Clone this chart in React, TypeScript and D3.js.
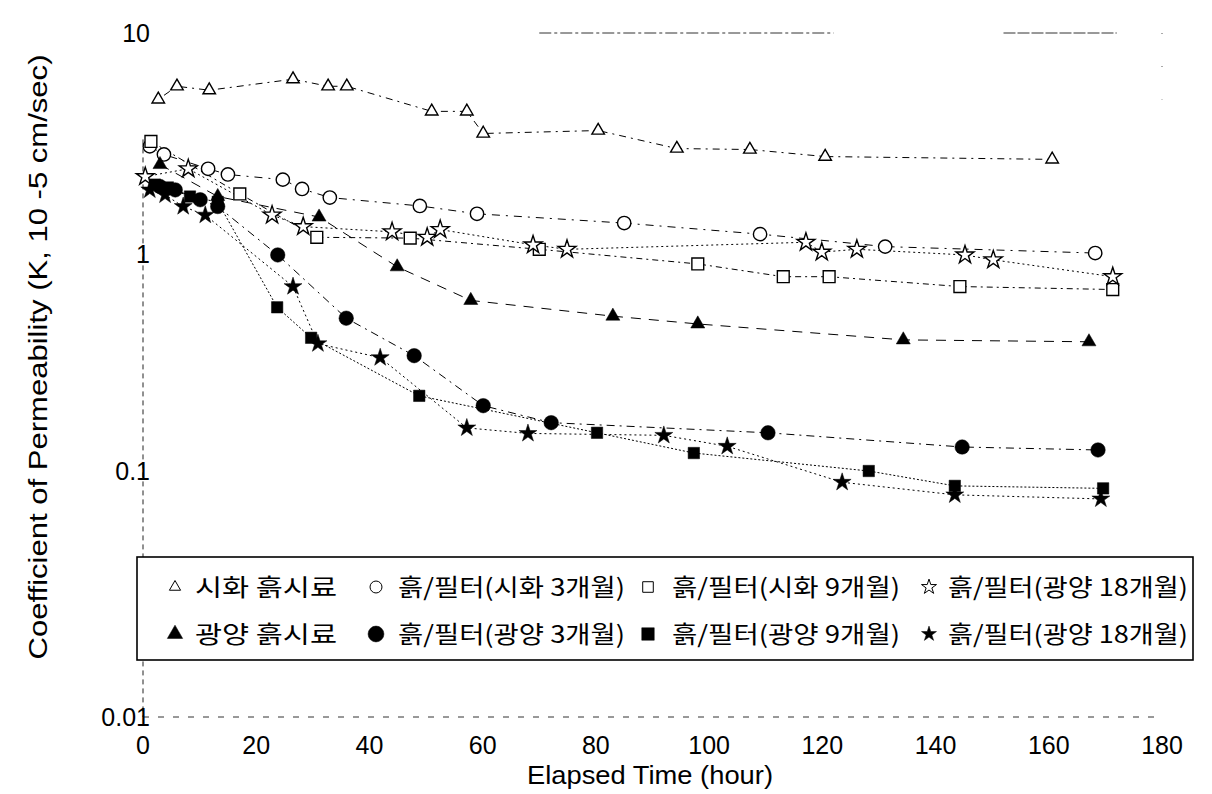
import * as d3 from "d3";

// elapsed time (hour) and permeability K (10^-5 cm/sec) for each sample
const sihwaSoilT = [2.7, 6.0, 11.7, 26.5, 32.7, 36.0, 51.0, 57.2, 60.1, 80.4, 94.3, 107.2, 120.5, 160.6];
const sihwaSoilK = [5.01, 5.74, 5.51, 6.18, 5.74, 5.74, 4.42, 4.42, 3.51, 3.62, 3.0, 2.97, 2.76, 2.68];

const sihwa3T = [1.2, 3.7, 11.5, 15.0, 24.7, 28.1, 33.0, 48.9, 59.0, 85.0, 109.0, 131.1, 168.2];
const sihwa3K = [3.07, 2.82, 2.43, 2.29, 2.17, 1.97, 1.8, 1.65, 1.52, 1.38, 1.23, 1.08, 1.01];

const sihwa9T = [1.4, 17.1, 30.7, 47.2, 70.0, 98.0, 113.1, 121.2, 144.3, 171.3];
const sihwa9K = [3.23, 1.87, 1.19, 1.18, 1.05, 0.9, 0.786, 0.786, 0.708, 0.686];

const sihwa18T = [0.4, 8.0, 22.8, 28.3, 44.0, 50.2, 52.5, 68.9, 74.9, 117.1, 119.9, 126.1, 145.2, 150.2, 171.3];
const sihwa18K = [2.24, 2.43, 1.5, 1.33, 1.26, 1.19, 1.29, 1.1, 1.05, 1.13, 1.02, 1.05, 0.99, 0.94, 0.786];

const gwangyangSoilT = [3.0, 13.2, 31.1, 44.9, 57.9, 83.0, 98.0, 134.3, 167.1];
const gwangyangSoilK = [2.54, 1.82, 1.47, 0.873, 0.611, 0.517, 0.476, 0.402, 0.394];

const gwangyang3T = [3.0, 5.7, 10.1, 13.2, 23.8, 35.9, 47.9, 60.1, 72.1, 110.4, 144.7, 168.7];
const gwangyang3K = [2.02, 1.95, 1.76, 1.64, 0.99, 0.506, 0.34, 0.2, 0.167, 0.15, 0.129, 0.125];

const gwangyang9T = [2.1, 4.4, 8.3, 13.2, 23.7, 29.7, 48.8, 80.2, 97.3, 128.2, 143.4, 169.6];
const gwangyang9K = [2.06, 2.0, 1.82, 1.72, 0.568, 0.411, 0.222, 0.15, 0.121, 0.1, 0.087, 0.085];

const gwangyang18T = [1.2, 3.9, 7.1, 11.0, 26.5, 30.9, 41.9, 57.2, 68.0, 92.0, 103.2, 123.5, 143.4, 169.2];
const gwangyang18K = [1.95, 1.85, 1.64, 1.5, 0.708, 0.386, 0.333, 0.158, 0.149, 0.146, 0.13, 0.09, 0.08, 0.077];

const legendLabels = [
  "시화 흙시료", "흙/필터(시화 3개월)", "흙/필터(시화 9개월)", "흙/필터(광양 18개월)",
  "광양 흙시료", "흙/필터(광양 3개월)", "흙/필터(광양 9개월)", "흙/필터(광양 18개월)",
];

const xTicks = [0, 20, 40, 60, 80, 100, 120, 140, 160, 180];
const yTicks = [0.01, 0.1, 1, 10];

const W = 1212;
const H = 794;

const series = [
  { t: sihwaSoilT, k: sihwaSoilK, sym: d3.symbolTriangle, size: 68, fill: false, dash: "2,5,7,5" },
  { t: sihwa3T, k: sihwa3K, sym: d3.symbolCircle, size: 140, fill: false, dash: "8,6,2,6" },
  { t: sihwa9T, k: sihwa9K, sym: d3.symbolSquare, size: 140, fill: false, dash: "6,4,2,4" },
  { t: sihwa18T, k: sihwa18K, sym: d3.symbolStar, size: 100, fill: false, dash: "2,3" },
  { t: gwangyangSoilT, k: gwangyangSoilK, sym: d3.symbolTriangle, size: 85, fill: true, dash: "10,8" },
  { t: gwangyang3T, k: gwangyang3K, sym: d3.symbolCircle, size: 165, fill: true, dash: "8,5,2,5" },
  { t: gwangyang9T, k: gwangyang9K, sym: d3.symbolSquare, size: 130, fill: true, dash: "2,2" },
  { t: gwangyang18T, k: gwangyang18K, sym: d3.symbolStar, size: 100, fill: true, dash: "2,3" },
];

// legend layout (four columns, two rows)
const legendCols = [
  { mark: 175, text: 195, end: 337 },
  { mark: 376, text: 398, end: 625 },
  { mark: 648, text: 672, end: 900 },
  { mark: 929, text: 948, end: 1188 },
];
const legendRows = [587, 634];

export default function App() {
  const x = d3.scaleLinear().domain([0, 180]).range([143, 1162]);
  // the scanned axis has a taller bottom decade, so the log scale is piecewise
  const y = d3.scaleLog().domain([0.01, 0.1, 1, 10]).range([717, 471, 254, 33]);

  const line = d3.line<[number, number]>()
    .x(d => x(d[0]))
    .y(d => y(d[1]));

  const font = "'Liberation Sans', Arial, sans-serif";
  const kfont = "'Noto Sans CJK KR', sans-serif";

  return (
    <svg width={W} height={H} style={{ position: "absolute", left: 0, top: 0, background: "#fff" }}>
      <rect width={W} height={H} fill="#fff" />

      {/* frame, faint like the scan */}
      <line x1={x(0)} x2={x(0)} y1={y(3.3)} y2={y(0.01)} stroke="#222" strokeDasharray="5,4" />
      <line x1={x(0)} x2={x(180)} y1={y(0.01)} y2={y(0.01)} stroke="#333" strokeDasharray="6,9" />
      <line x1={x(70)} x2={x(122)} y1={y(10)} y2={y(10)} stroke="#333" strokeDasharray="12,3,3,3" />
      <line x1={x(152)} x2={x(172)} y1={y(10)} y2={y(10)} stroke="#333" strokeDasharray="12,2" />
      <line x1={x(180)} x2={x(180)} y1={y(10)} y2={y(5)} stroke="#555" strokeDasharray="1,32" />

      {/* series lines */}
      {series.map((s, i) => (
        <path key={"l" + i}
          d={line(s.t.map((t, j) => [t, s.k[j]] as [number, number])) || ""}
          fill="none" stroke="#000" strokeWidth={1} strokeDasharray={s.dash} />
      ))}

      {/* markers */}
      {series.map((s, i) => (
        <g key={"m" + i}>
          {s.t.map((t, j) => (
            <path key={j}
              transform={`translate(${x(t)},${y(s.k[j])})`}
              d={d3.symbol(s.sym, s.size)() || ""}
              fill={s.fill ? "#000" : "#fff"}
              stroke="#000" strokeWidth={s.fill ? 0.5 : 1.4} />
          ))}
        </g>
      ))}

      {/* y tick labels */}
      {yTicks.map(v => (
        <text key={v} x={150} y={y(v)} dy="0.36em" textAnchor="end"
          fontFamily={font} fontSize={25} fill="#000">{String(v)}</text>
      ))}

      {/* x tick labels */}
      {xTicks.map(v => (
        <text key={v} x={x(v)} y={y(0.01) + 37} textAnchor="middle"
          fontFamily={font} fontSize={25} fill="#000">{v}</text>
      ))}

      <text x={650} y={784} textAnchor="middle" fontFamily={font} fontSize={26}
        textLength={246} lengthAdjust="spacingAndGlyphs">Elapsed Time (hour)</text>
      <text transform="translate(47,357) rotate(-90)" textAnchor="middle" fontFamily={font} fontSize={25}
        textLength={605} lengthAdjust="spacingAndGlyphs">
        Coefficient of Permeability (K, 10 -5 cm/sec)
      </text>

      {/* legend */}
      <rect x={137} y={557} width={1056} height={103} fill="#fff" stroke="#000" strokeWidth={1.6} />
      {legendLabels.map((lab, i) => {
        const c = legendCols[i % 4];
        const ry = legendRows[Math.floor(i / 4)];
        const s = series[i];
        const sz = s.sym === d3.symbolStar ? s.size * 0.7 : s.fill ? s.size * 1.2 : s.size * 0.8;
        return (
          <g key={"g" + i}>
            <path transform={`translate(${c.mark},${ry})`} d={d3.symbol(s.sym, sz)() || ""}
              fill={s.fill ? "#000" : "#fff"} stroke="#000" strokeWidth={s.fill ? 0.5 : 1} />
            <text x={c.text} y={ry} dy="0.36em" fontFamily={kfont} fontSize={24}
              textLength={c.end - c.text} lengthAdjust="spacingAndGlyphs">{lab}</text>
          </g>
        );
      })}
    </svg>
  );
}
